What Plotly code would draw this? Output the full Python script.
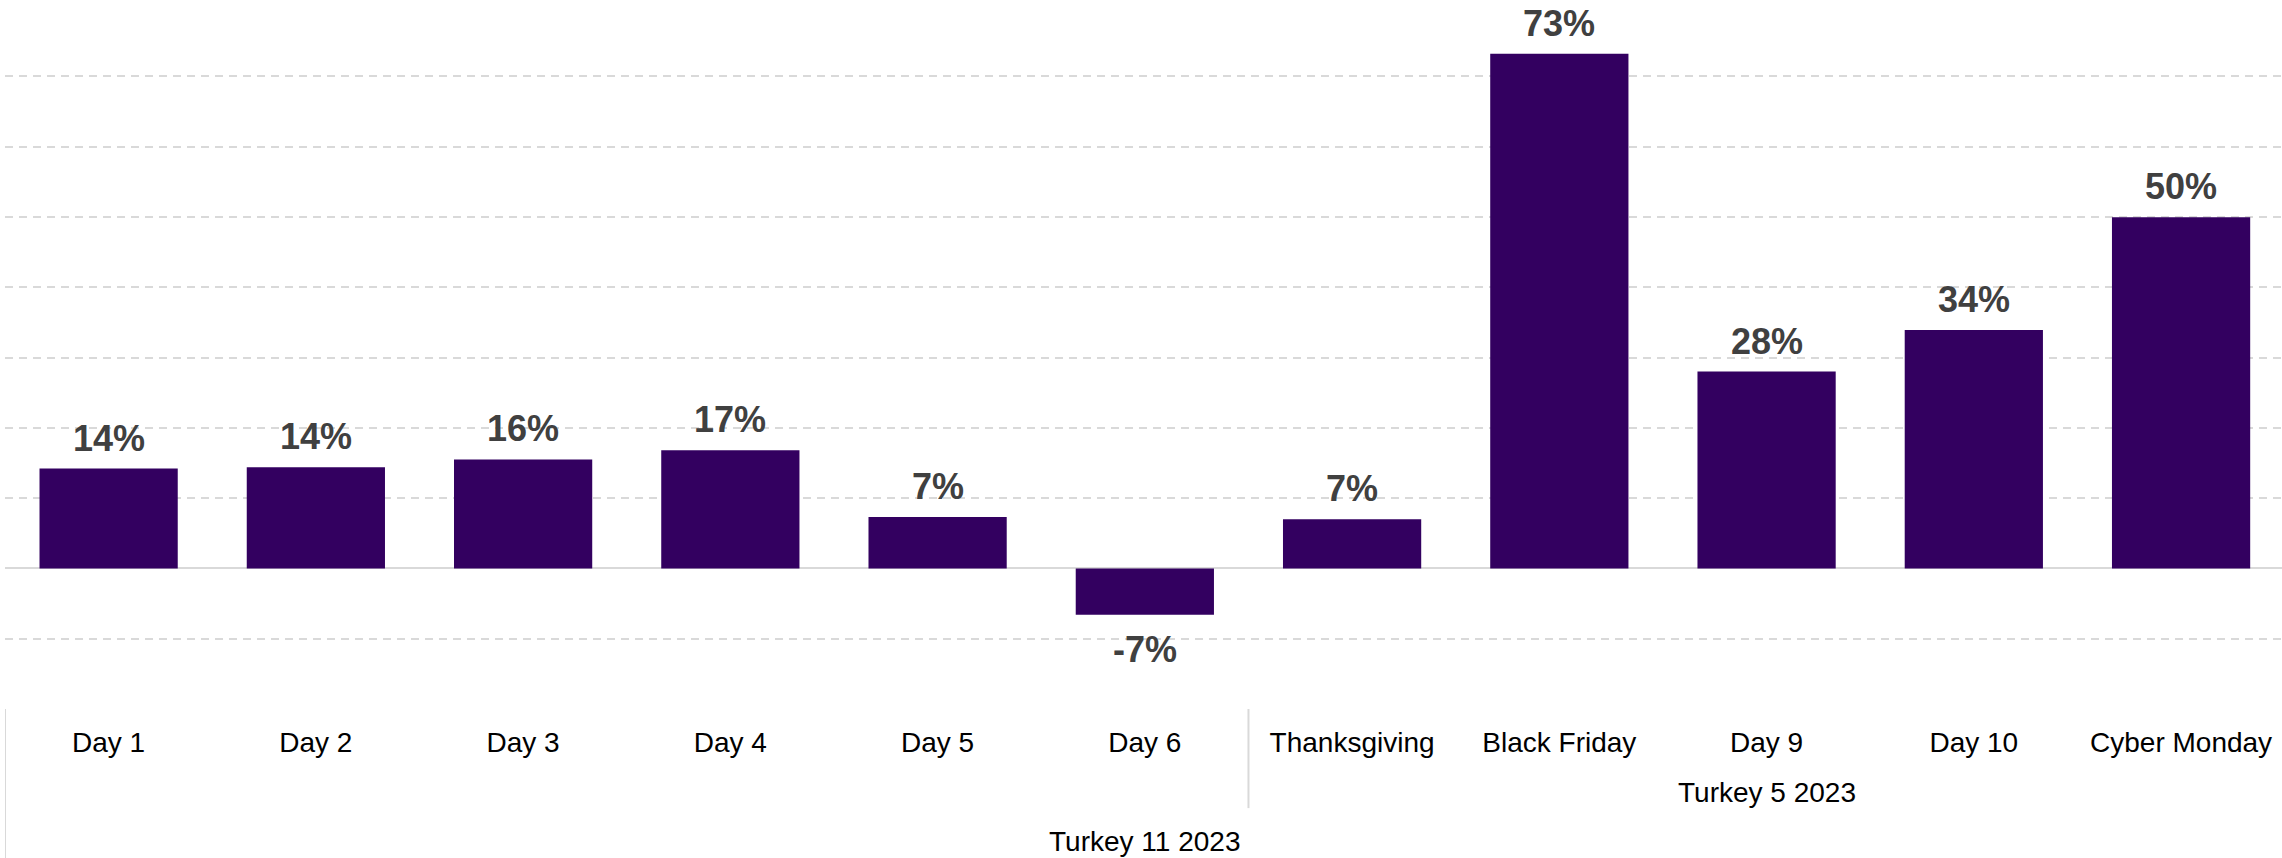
import plotly.graph_objects as go

# Daily growth by day of the shopping period
categories = ["Day 1", "Day 2", "Day 3", "Day 4", "Day 5", "Day 6",
              "Thanksgiving", "Black Friday", "Day 9", "Day 10", "Cyber Monday"]
growth = [0.142, 0.144, 0.155, 0.168, 0.073, -0.066,
          0.070, 0.732, 0.280, 0.339, 0.4995]

# Grouping rows under the category labels
group_outer = "Turkey 11 2023"
group_inner = "Turkey 5 2023"
inner_start = 6  # index of the first category in the inner group

BAR_COLOR = "#330060"
LABEL_COLOR = "#404040"
GRID_COLOR = "#d9d9d9"
FONT = "Liberation Sans, Arial, sans-serif"

x_idx = list(range(len(categories)))

fig = go.Figure()
fig.add_trace(go.Bar(
    x=x_idx,
    y=growth,
    marker=dict(color=BAR_COLOR, line=dict(width=0)),
    width=0.667,
    hoverinfo="skip",
))

# value labels above positive bars, below negative bars
annotations = []
for i, v in zip(x_idx, growth):
    annotations.append(dict(
        x=i, y=v, xref="x", yref="y",
        text=f"{v:.0%}".replace("−", "-"),
        showarrow=False,
        yanchor="bottom" if v >= 0 else "top",
        yshift=9 if v >= 0 else -13,
        borderpad=0,
        font=dict(family=FONT, size=36, color=LABEL_COLOR, weight="bold"),
    ))

# group labels beneath the categories
n = len(categories)
annotations.append(dict(
    x=(inner_start + n - 1) / 2, y=-0.119, xref="x", yref="paper",
    text=group_inner, showarrow=False, yanchor="middle",
    font=dict(family=FONT, size=28, color="#000000"),
))
annotations.append(dict(
    x=(n - 1) / 2, y=-0.189, xref="x", yref="paper",
    text=group_outer, showarrow=False, yanchor="middle",
    font=dict(family=FONT, size=28, color="#000000"),
))

shapes = [
    # left edge of the category table
    dict(type="line", xref="x", yref="paper", x0=-0.5, x1=-0.5,
         y0=0, y1=-0.215, line=dict(color=GRID_COLOR, width=2)),
    # divider between the first six days and the inner group
    dict(type="line", xref="x", yref="paper",
         x0=inner_start - 0.5, x1=inner_start - 0.5,
         y0=0, y1=-0.141, line=dict(color=GRID_COLOR, width=2)),
]

fig.update_layout(
    width=2282, height=858,
    margin=dict(l=5, r=0, t=6, b=149),
    paper_bgcolor="white", plot_bgcolor="white",
    showlegend=False,
    bargap=0.333,
    annotations=annotations,
    shapes=shapes,
    font=dict(family=FONT),
    xaxis=dict(
        range=[-0.5, 10.487],
        tickmode="array", tickvals=x_idx, ticktext=categories,
        tickfont=dict(family=FONT, size=28, color="#000000"),
        showgrid=False, showline=False, zeroline=False,
        ticks="", ticklabelstandoff=14,
    ),
    yaxis=dict(
        range=[-0.2, 0.8],
        dtick=0.1, tick0=0,
        showticklabels=False,
        showgrid=True, gridcolor=GRID_COLOR, gridwidth=2, griddash="8px,6px",
        zeroline=True, zerolinecolor=GRID_COLOR, zerolinewidth=2,
        showline=False, ticks="",
    ),
)

fig.write_html("out.html")
